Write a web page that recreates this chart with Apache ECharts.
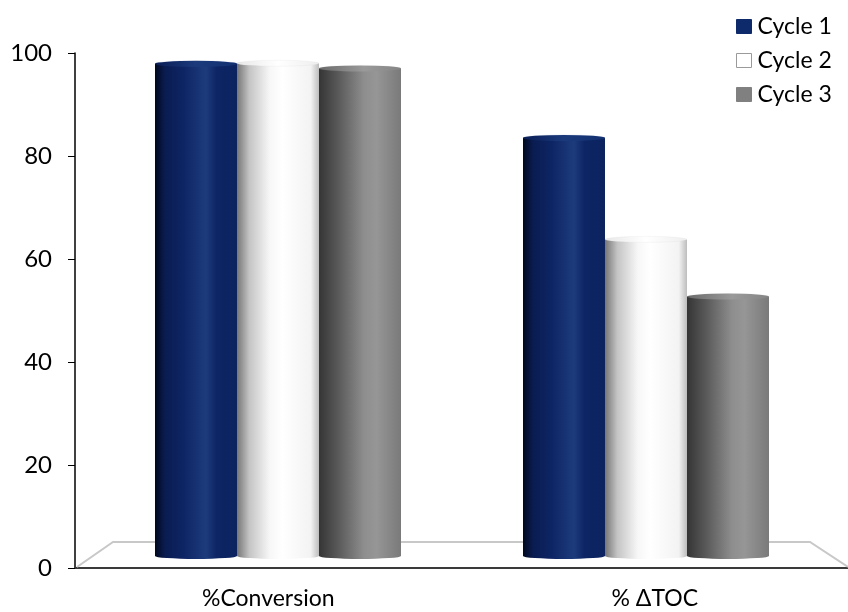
<!DOCTYPE html>
<html>
<head>
<meta charset="utf-8">
<script src="https://cdn.jsdelivr.net/npm/echarts@6/dist/echarts.min.js"></script>
<style>
html,body{margin:0;padding:0;background:#fff;}
#chart{width:848px;height:612px;}
</style>
</head>
<body>
<div id="chart"></div>
<script>
// ---- data ----
var categories = ['%Conversion', '% \u0394TOC'];
var seriesNames = ['Cycle 1', 'Cycle 2', 'Cycle 3'];
var cycle1 = [95.6, 81.2];
var cycle2 = [95.7, 61.5];
var cycle3 = [94.7, 50.4];
var yTicks = [0, 20, 40, 60, 80, 100];

var FONT = 'Lato, "Liberation Sans", sans-serif';
var values = [cycle1, cycle2, cycle3];

function grad(stops) {
  return new echarts.graphic.LinearGradient(0, 0, 1, 0, stops.map(function (s) {
    return { offset: s[0], color: s[1] };
  }));
}
var bodyGrad = [
  grad([[0, '#00081f'], [0.12, '#0a1c50'], [0.35, '#0e2565'], [0.62, '#1d3b7b'], [0.75, '#0e2565'], [1, '#0c2360']]),
  grad([[0, '#767676'], [0.15, '#c4c4c4'], [0.4, '#f7f7f7'], [0.55, '#ffffff'], [0.9, '#f3f3f3'], [1, '#bdbdbd']]),
  grad([[0, '#353535'], [0.25, '#5c5c5c'], [0.55, '#8e8e8e'], [0.7, '#969696'], [1, '#7a7a7a']])
];
var topGrad = [
  grad([[0, '#0a1d55'], [0.5, '#1b3a7c'], [1, '#123070']]),
  grad([[0, '#e8e8e8'], [0.5, '#ffffff'], [1, '#eeeeee']]),
  grad([[0, '#6a6a6a'], [0.55, '#9a9a9a'], [1, '#858585']])
];
var topBorder = ['#2a4583', '#b0b0b0', '#8c8c8c'];
var legendColors = ['#0f2a6b', '#ffffff', '#808080'];
var legendBorders = ['#0f2a6b', '#9a9a9a', '#808080'];

var BW = 82;
var series = [];
for (var i = 0; i < 3; i++) {
  series.push({
    name: seriesNames[i], type: 'bar', xAxisIndex: 1, yAxisIndex: 1,
    barWidth: BW, barGap: '0%', barCategoryGap: '33%',
    data: values[i], z: 3,
    itemStyle: { color: bodyGrad[i] }
  });
}
for (var i = 0; i < 3; i++) {
  series.push({
    name: 'top' + i, type: 'pictorialBar', xAxisIndex: 1, yAxisIndex: 1,
    barWidth: BW, barGap: '0%', barCategoryGap: '33%',
    symbol: 'circle', symbolSize: [BW, 6], symbolPosition: 'end', symbolOffset: [0, '-50%'],
    data: values[i], z: 4, silent: true,
    itemStyle: { color: topGrad[i], borderColor: topBorder[i], borderWidth: 0.8 }
  });
}
for (var i = 0; i < 3; i++) {
  series.push({
    name: 'bottom' + i, type: 'pictorialBar', xAxisIndex: 2, yAxisIndex: 1,
    barWidth: BW, barGap: '0%', barCategoryGap: '33%',
    symbol: 'circle', symbolSize: [BW, 6], symbolPosition: 'start', symbolOffset: [0, '50%'],
    data: values[i], z: 2, silent: true,
    itemStyle: { color: bodyGrad[i] }
  });
}

var chart = echarts.init(document.getElementById('chart'));
chart.setOption({
  backgroundColor: '#ffffff',
  animation: false,
  textStyle: { fontFamily: FONT },
  legend: {
    orient: 'vertical', left: 736, top: 15, padding: 0,
    itemWidth: 15, itemHeight: 14, itemGap: 11,
    icon: 'rect',
    textStyle: { fontFamily: FONT, fontSize: 23, color: '#000', lineHeight: 23, padding: [0, 0, 0, 1] },
    data: seriesNames.map(function (n, i) {
      return { name: n, itemStyle: { color: legendColors[i], borderColor: legendBorders[i], borderWidth: 1 } };
    })
  },
  grid: [
    { left: 75, right: 0, top: 53, bottom: 44 },
    { left: 94, right: 18, top: 41, bottom: 56 }
  ],
  xAxis: [
    {
      type: 'category', gridIndex: 0, data: categories,
      axisLine: { lineStyle: { color: '#3a3a3a', width: 2 } },
      axisTick: { length: 8, lineStyle: { color: '#000', width: 1 } },
      axisLabel: { fontFamily: FONT, fontSize: 23, color: '#000', margin: 19 }
    },
    { type: 'category', gridIndex: 1, data: categories, show: false },
    { type: 'category', gridIndex: 1, data: categories, show: false }
  ],
  yAxis: [
    {
      type: 'value', gridIndex: 0, min: 0, max: 100, interval: 20,
      axisLine: { show: true, lineStyle: { color: '#000', width: 1.5 } },
      axisTick: { show: true, length: 7, lineStyle: { color: '#000' } },
      splitLine: { show: false },
      axisLabel: { fontFamily: FONT, fontSize: 24, color: '#000', margin: 23,
        formatter: function (v) { return yTicks.indexOf(v) >= 0 ? String(v) : ''; } }
    },
    { type: 'value', gridIndex: 1, min: 0, max: 100, show: false }
  ],
  graphic: [
    {
      type: 'polyline', z: 1, silent: true,
      shape: { points: [[77, 567], [113, 542], [810, 542], [848, 567]] },
      style: { stroke: '#c8c8c8', lineWidth: 2, fill: null }
    }
  ],
  series: series
});
</script>
</body>
</html>
